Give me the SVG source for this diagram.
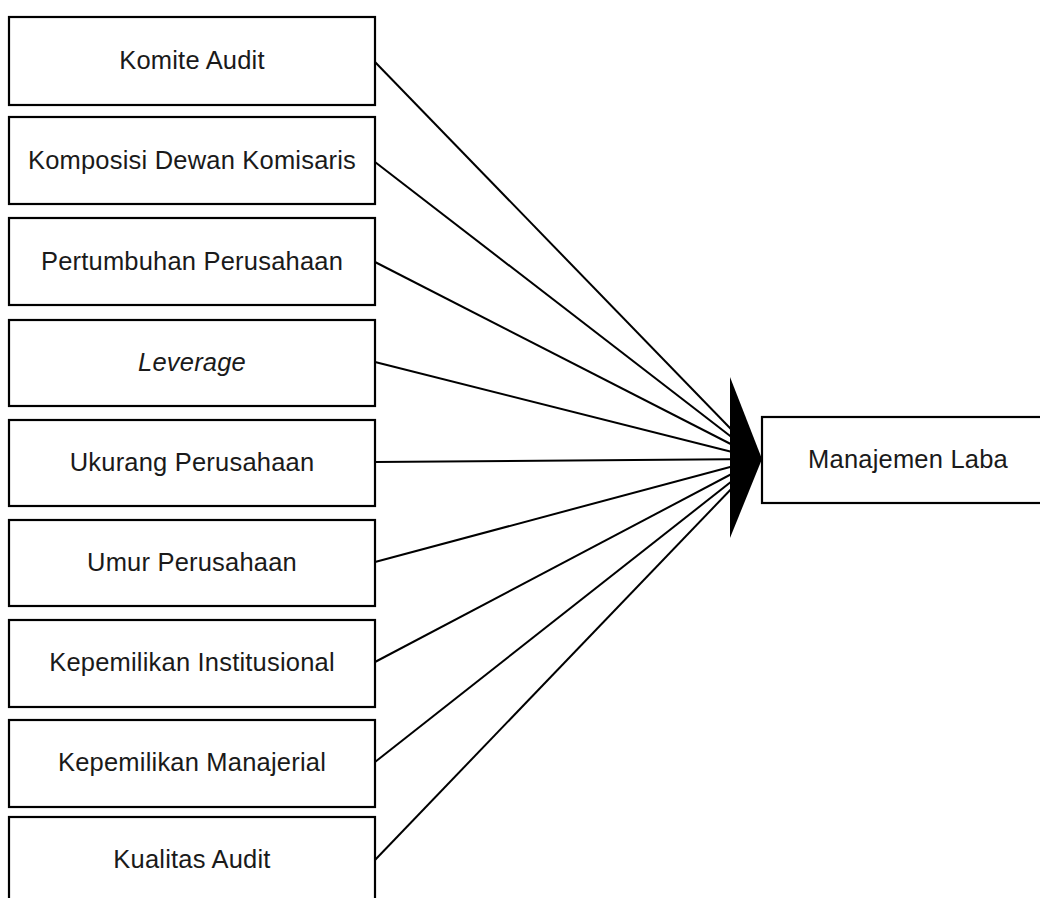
<svg xmlns="http://www.w3.org/2000/svg" width="1040" height="898" viewBox="0 0 1040 898">
<style>
.box{fill:#fff;stroke:#000;stroke-width:2.2}
.lbl{font-family:"Liberation Sans",Arial,sans-serif;font-size:25.5px;letter-spacing:0.2px;fill:#1a1a1a;text-anchor:middle}
.ln{stroke:#000;stroke-width:2;fill:none}
</style>
<rect width="1040" height="898" fill="#fff"/>
<g id="connectors">
<line class="ln" x1="375" y1="62" x2="760" y2="459"/>
<line class="ln" x1="375" y1="162" x2="760" y2="459"/>
<line class="ln" x1="375" y1="262" x2="760" y2="459"/>
<line class="ln" x1="375" y1="362" x2="760" y2="459"/>
<line class="ln" x1="375" y1="462" x2="760" y2="459"/>
<line class="ln" x1="375" y1="562" x2="760" y2="459"/>
<line class="ln" x1="375" y1="662" x2="760" y2="459"/>
<line class="ln" x1="375" y1="762" x2="760" y2="459"/>
<line class="ln" x1="375" y1="860" x2="760" y2="459"/>
<polygon points="730,377 762,459 730,538" fill="#000"/>
</g>
<g id="n1"><rect class="box" x="9" y="17" width="366" height="88"/><text class="lbl" x="192" y="69">Komite Audit</text></g>
<g id="n2"><rect class="box" x="9" y="117" width="366" height="87"/><text class="lbl" x="192" y="169">Komposisi Dewan Komisaris</text></g>
<g id="n3"><rect class="box" x="9" y="218" width="366" height="87"/><text class="lbl" x="192" y="270">Pertumbuhan Perusahaan</text></g>
<g id="n4"><rect class="box" x="9" y="320" width="366" height="86"/><text class="lbl" x="192" y="371" font-style="italic">Leverage</text></g>
<g id="n5"><rect class="box" x="9" y="420" width="366" height="86"/><text class="lbl" x="192" y="471">Ukurang Perusahaan</text></g>
<g id="n6"><rect class="box" x="9" y="520" width="366" height="86"/><text class="lbl" x="192" y="571">Umur Perusahaan</text></g>
<g id="n7"><rect class="box" x="9" y="620" width="366" height="87"/><text class="lbl" x="192" y="671">Kepemilikan Institusional</text></g>
<g id="n8"><rect class="box" x="9" y="720" width="366" height="87"/><text class="lbl" x="192" y="771">Kepemilikan Manajerial</text></g>
<g id="n9"><rect class="box" x="9" y="817" width="366" height="90"/><text class="lbl" x="192" y="868">Kualitas Audit</text></g>
<g id="target"><rect class="box" x="762" y="417" width="292" height="86"/><text class="lbl" x="908" y="468">Manajemen Laba</text></g>
</svg>
